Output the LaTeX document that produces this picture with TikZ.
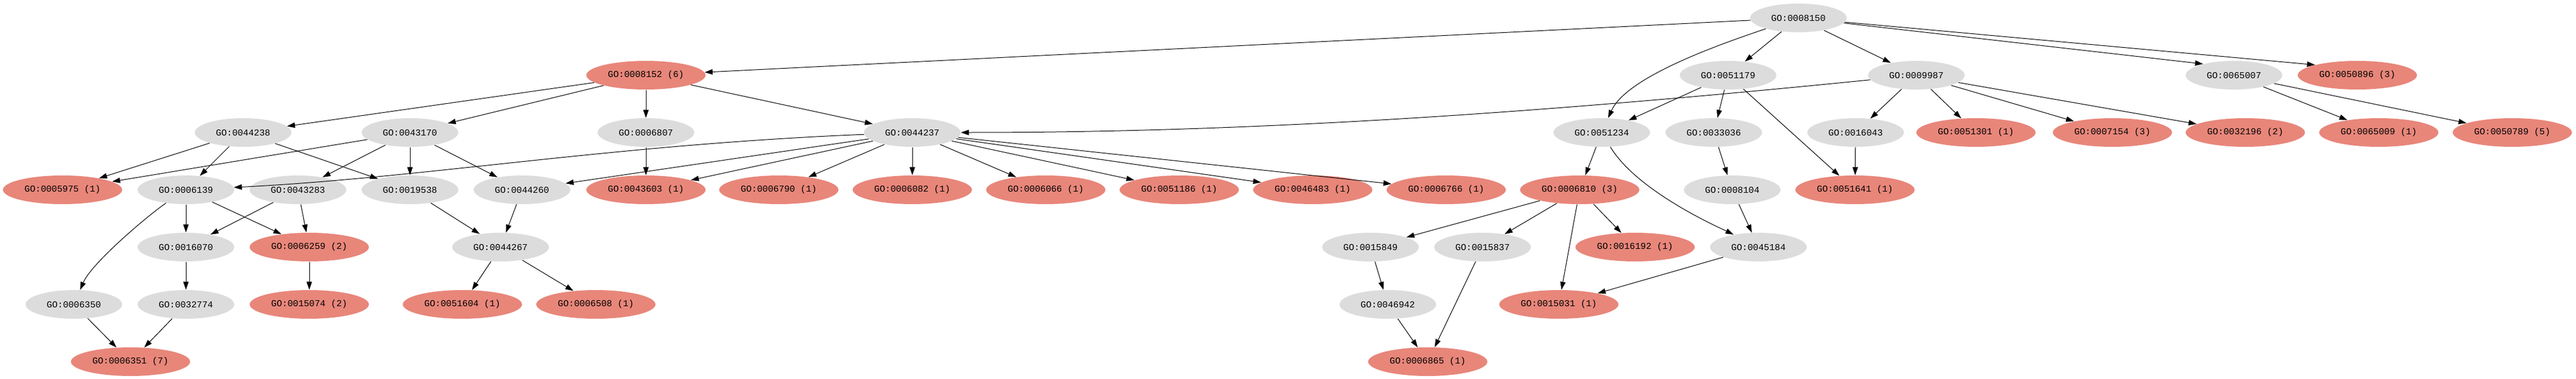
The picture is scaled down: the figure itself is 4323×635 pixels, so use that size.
\documentclass[tikz,border=0pt]{standalone}
\usepackage{fontspec}
\usepackage{tikz}
\usetikzlibrary{shapes.geometric}
\usetikzlibrary{arrows.meta}
\newfontfamily\gofont{Liberation Mono}
\definecolor{termgray}{RGB}{220,220,220}
\definecolor{termhit}{RGB}{232,134,122}
\tikzset{every picture/.style={line width=0.75pt}}
\tikzset{
  term/.style={ellipse, fill=termgray, inner sep=0pt, minimum width=121.5pt, minimum height=36pt, font=\gofont\fontsize{11.4}{13}\selectfont},
  hit/.style={term, fill=termhit, minimum width=150pt},
  link/.style={-{Triangle[length=10pt,width=6.7pt]}, line width=0.75pt}
}

\begin{document}
\begin{tikzpicture}[x=0.75pt,y=0.75pt,yscale=-1,xscale=1]
%set diagram left start at 0, and has height of 635
\useasboundingbox (0,0) rectangle (4323,635);

%Rank 0
\node[term] (go0008150) at (3018,30) {GO:0008150};
%Rank 1
\node[hit] (go0008152) at (1084,126) {GO:0008152 (6)};
\node[term] (go0051179) at (2900,126) {GO:0051179};
\node[term] (go0009987) at (3216,126) {GO:0009987};
\node[term] (go0065007) at (3749,126) {GO:0065007};
\node[hit] (go0050896) at (3956,126) {GO:0050896 (3)};
%Rank 2
\node[term] (go0044238) at (408,222) {GO:0044238};
\node[term] (go0043170) at (688,222) {GO:0043170};
\node[term] (go0006807) at (1084,222) {GO:0006807};
\node[term] (go0044237) at (1531,222) {GO:0044237};
\node[term] (go0051234) at (2688,222) {GO:0051234};
\node[term] (go0033036) at (2876,222) {GO:0033036};
\node[term] (go0016043) at (3114,222) {GO:0016043};
\node[hit] (go0051301) at (3316,222) {GO:0051301 (1)};
\node[hit] (go0007154) at (3545,222) {GO:0007154 (3)};
\node[hit] (go0032196) at (3768,222) {GO:0032196 (2)};
\node[hit] (go0065009) at (3992,222) {GO:0065009 (1)};
\node[hit] (go0050789) at (4216,222) {GO:0050789 (5)};
%Rank 3
\node[hit] (go0005975) at (105,318) {GO:0005975 (1)};
\node[term] (go0006139) at (312,318) {GO:0006139};
\node[term] (go0043283) at (500,318) {GO:0043283};
\node[term] (go0019538) at (688,318) {GO:0019538};
\node[term] (go0044260) at (876,318) {GO:0044260};
\node[hit] (go0043603) at (1084,318) {GO:0043603 (1)};
\node[hit] (go0006790) at (1307,318) {GO:0006790 (1)};
\node[hit] (go0006082) at (1531,318) {GO:0006082 (1)};
\node[hit] (go0006066) at (1755,318) {GO:0006066 (1)};
\node[hit] (go0051186) at (1979,318) {GO:0051186 (1)};
\node[hit] (go0046483) at (2203,318) {GO:0046483 (1)};
\node[hit] (go0006766) at (2427,318) {GO:0006766 (1)};
\node[hit] (go0006810) at (2651,318) {GO:0006810 (3)};
\node[term] (go0008104) at (2907,318) {GO:0008104};
\node[hit] (go0051641) at (3113,318) {GO:0051641 (1)};
%Rank 4
\node[term] (go0016070) at (312,414) {GO:0016070};
\node[hit] (go0006259) at (519,414) {GO:0006259 (2)};
\node[term] (go0044267) at (840,414) {GO:0044267};
\node[term] (go0015849) at (2300,414) {GO:0015849};
\node[term] (go0015837) at (2488,414) {GO:0015837};
\node[hit] (go0016192) at (2744,414) {GO:0016192 (1)};
\node[term] (go0045184) at (2951,414) {GO:0045184};
%Rank 5
\node[term] (go0006350) at (124,510) {GO:0006350};
\node[term] (go0032774) at (312,510) {GO:0032774};
\node[hit] (go0015074) at (519,510) {GO:0015074 (2)};
\node[hit] (go0051604) at (776,510) {GO:0051604 (1)};
\node[hit] (go0006508) at (1000,510) {GO:0006508 (1)};
\node[term] (go0046942) at (2329,510) {GO:0046942};
\node[hit] (go0015031) at (2616,510) {GO:0015031 (1)};
%Rank 6
\node[hit] (go0006351) at (219,606) {GO:0006351 (7)};
\node[hit] (go0006865) at (2396,606) {GO:0006865 (1)};

%Edges from GO:0008150
\draw[link] (go0008150) -- (go0008152);
\draw[link] (go0008150) .. controls +(-150,50) and +(40,-90) .. (go0051234);
\draw[link] (go0008150) -- (go0051179);
\draw[link] (go0008150) -- (go0009987);
\draw[link] (go0008150) -- (go0065007.160);
\draw[link] (go0008150) -- (go0050896.north west);
%Edges from rank 1
\draw[link] (go0008152) -- (go0044238);
\draw[link] (go0008152) -- (go0043170);
\draw[link] (go0008152) -- (go0006807);
\draw[link] (go0008152) -- (go0044237);
\draw[link] (go0051179) -- (go0051234);
\draw[link] (go0051179) -- (go0033036);
\draw[link] (go0051179) -- (go0051641);
\draw[link] (go0009987) .. controls +(-600,60) and +(600,0) .. (go0044237);
\draw[link] (go0009987) -- (go0016043);
\draw[link] (go0009987) -- (go0051301);
\draw[link] (go0009987) -- (go0007154);
\draw[link] (go0009987) -- (go0032196);
\draw[link] (go0065007) -- (go0065009);
\draw[link] (go0065007) -- (go0050789);
%Edges from rank 2
\draw[link] (go0044238) -- (go0005975);
\draw[link] (go0044238) -- (go0006139);
\draw[link] (go0044238) -- (go0019538);
\draw[link] (go0043170) -- (go0005975);
\draw[link] (go0043170) -- (go0043283);
\draw[link] (go0043170) -- (go0019538);
\draw[link] (go0043170) -- (go0044260);
\draw[link] (go0006807) -- (go0043603);
\draw[link] (go0044237) .. controls +(-500,20) and +(400,-20) .. (go0006139);
\draw[link] (go0044237) -- (go0044260);
\draw[link] (go0044237) -- (go0043603);
\draw[link] (go0044237) -- (go0006790);
\draw[link] (go0044237) -- (go0006082);
\draw[link] (go0044237) -- (go0006066);
\draw[link] (go0044237) -- (go0051186);
\draw[link] (go0044237) -- (go0046483);
\draw[link] (go0044237) -- (go0006766);
\draw[link] (go0051234) -- (go0006810);
\draw[link] (go0051234) .. controls +(60,100) and +(-60,-30) .. (go0045184);
\draw[link] (go0033036) -- (go0008104);
\draw[link] (go0016043) -- (go0051641);
%Edges from rank 3
\draw[link] (go0006139) .. controls +(-60,40) and +(30,-70) .. (go0006350);
\draw[link] (go0006139) -- (go0016070);
\draw[link] (go0006139) -- (go0006259);
\draw[link] (go0043283) -- (go0016070);
\draw[link] (go0043283) -- (go0006259);
\draw[link] (go0019538) -- (go0044267);
\draw[link] (go0044260) -- (go0044267);
\draw[link] (go0006810) -- (go0015849);
\draw[link] (go0006810) -- (go0015837);
\draw[link] (go0006810) -- (go0015031);
\draw[link] (go0006810) -- (go0016192);
\draw[link] (go0008104) -- (go0045184);
%Edges from rank 4 and below
\draw[link] (go0016070) -- (go0032774);
\draw[link] (go0006259) -- (go0015074);
\draw[link] (go0044267) -- (go0051604);
\draw[link] (go0044267) -- (go0006508);
\draw[link] (go0045184) -- (go0015031);
\draw[link] (go0015849) -- (go0046942);
\draw[link] (go0015837) -- (go0006865);
\draw[link] (go0006350) -- (go0006351);
\draw[link] (go0032774) -- (go0006351);
\draw[link] (go0046942) -- (go0006865);

\end{tikzpicture}
\end{document}
